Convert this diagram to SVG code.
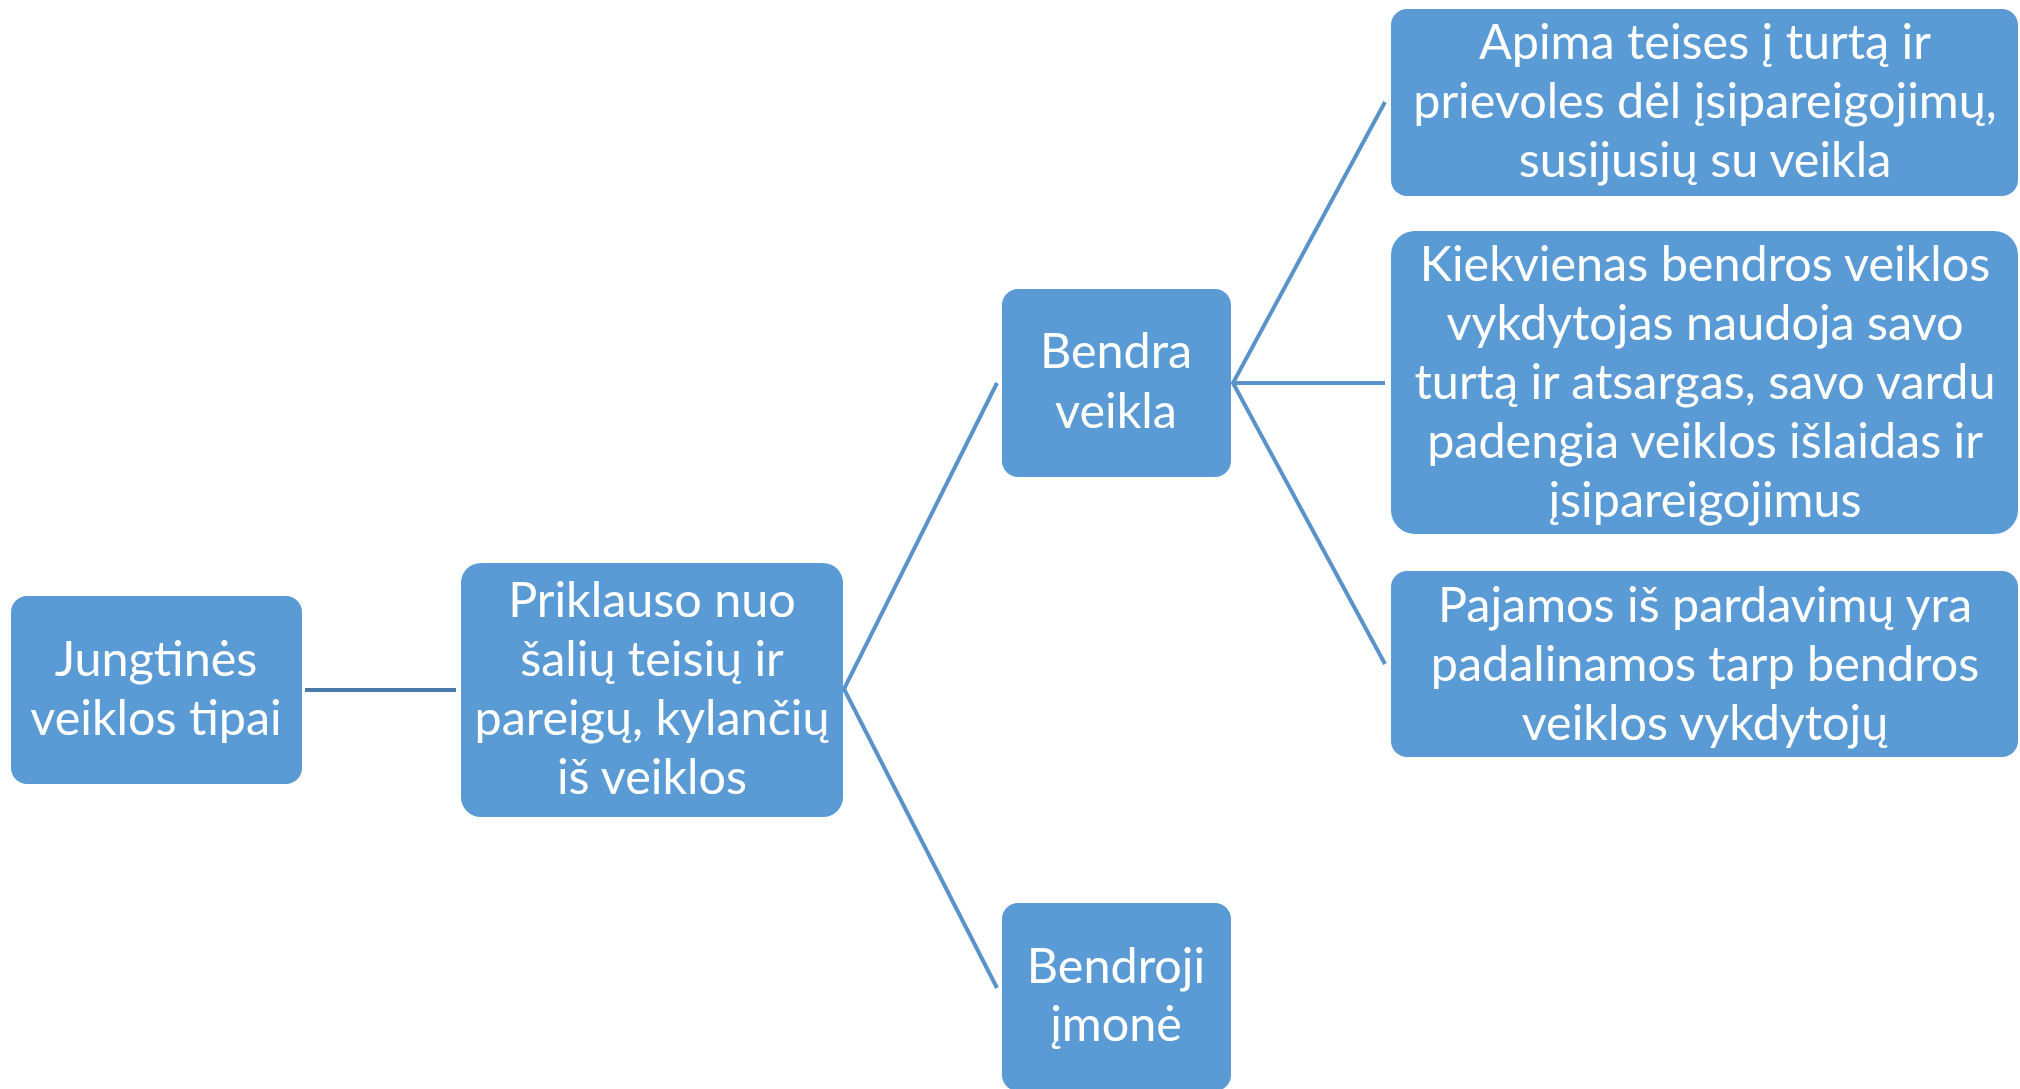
<svg xmlns="http://www.w3.org/2000/svg" width="2020" height="1089" viewBox="0 0 2020 1089">
<style>
.box{fill:#5B9BD5;}
.t{fill:#FFFFFF;font-family:Lato,"Open Sans","Liberation Sans",sans-serif;font-size:48.5px;text-anchor:middle;}
.c{stroke:#5A93C9;stroke-width:4;fill:none;}
.c0{stroke:#4A7BA8;stroke-width:4;fill:none;}
</style>
<rect width="2020" height="1089" fill="#FFFFFF"/>
<g id="connectors">
<line class="c0" x1="305" y1="690" x2="456" y2="690"/>
<polyline class="c" points="997,383 844,689 997,988"/>
<polyline class="c" points="1385,102 1233,383 1385,664"/>
<line class="c" x1="1233" y1="383" x2="1385" y2="383"/>
</g>
<g id="node-jungtines">
<rect class="box" x="11" y="596" width="291" height="188" rx="16"/>
<text class="t" x="156" y="676">Jungtinės</text>
<text class="t" x="156" y="735">veiklos tipai</text>
</g>
<g id="node-priklauso">
<rect class="box" x="461" y="563" width="382" height="254" rx="20"/>
<text class="t" x="652" y="617">Priklauso nuo</text>
<text class="t" x="652" y="676">šalių teisių ir</text>
<text class="t" x="652" y="735">pareigų, kylančių</text>
<text class="t" x="652" y="794">iš veiklos</text>
</g>
<g id="node-bendra-veikla">
<rect class="box" x="1002" y="289" width="229" height="188" rx="16"/>
<text class="t" x="1116" y="368">Bendra</text>
<text class="t" x="1116" y="428">veikla</text>
</g>
<g id="node-bendroji-imone">
<rect class="box" x="1002" y="903" width="229" height="188" rx="16"/>
<text class="t" x="1116" y="983">Bendroji</text>
<text class="t" x="1116" y="1041">įmonė</text>
</g>
<g id="node-apima">
<rect class="box" x="1391" y="9" width="627" height="187" rx="16"/>
<text class="t" x="1705" y="59">Apima teises į turtą ir</text>
<text class="t" x="1705" y="118">prievoles dėl įsipareigojimų,</text>
<text class="t" x="1705" y="177">susijusių su veikla</text>
</g>
<g id="node-kiekvienas">
<rect class="box" x="1391" y="231" width="627" height="303" rx="24"/>
<text class="t" x="1705" y="281">Kiekvienas bendros veiklos</text>
<text class="t" x="1705" y="340">vykdytojas naudoja savo</text>
<text class="t" x="1705" y="399">turtą ir atsargas, savo vardu</text>
<text class="t" x="1705" y="458">padengia veiklos išlaidas ir</text>
<text class="t" x="1705" y="517">įsipareigojimus</text>
</g>
<g id="node-pajamos">
<rect class="box" x="1391" y="571" width="627" height="186" rx="16"/>
<text class="t" x="1705" y="622">Pajamos iš pardavimų yra</text>
<text class="t" x="1705" y="681">padalinamos tarp bendros</text>
<text class="t" x="1705" y="740">veiklos vykdytojų</text>
</g>
</svg>
